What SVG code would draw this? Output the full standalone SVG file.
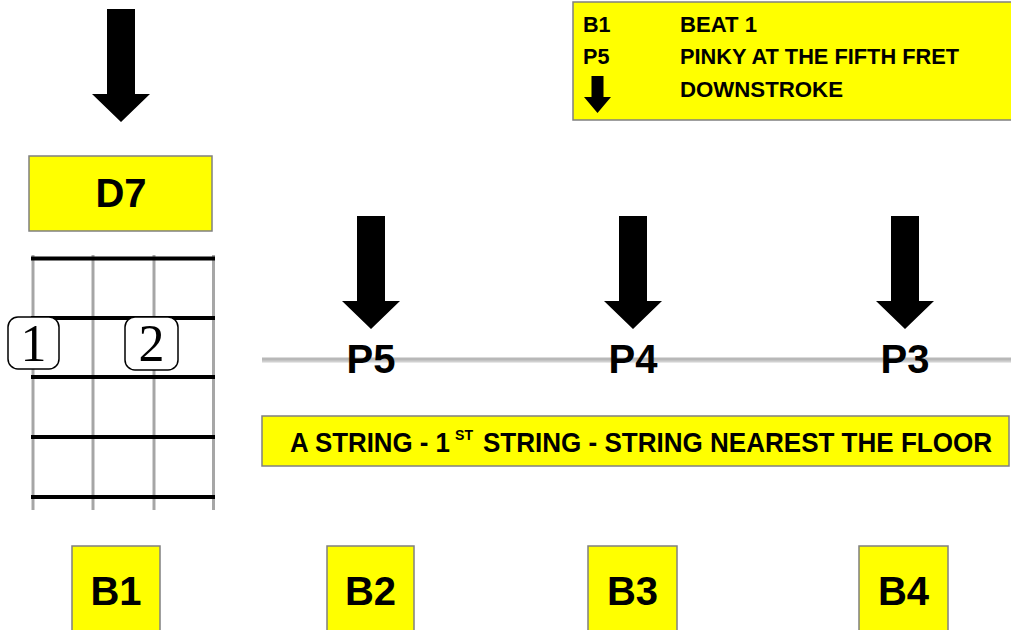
<svg xmlns="http://www.w3.org/2000/svg" width="1011" height="630" viewBox="0 0 1011 630">
<style>
.box{fill:#ffff00;stroke:#808080;stroke-width:1.5}
.big{font-family:"Liberation Sans",Arial,sans-serif;font-weight:bold;font-size:40px;fill:#000;text-anchor:middle}
.leg{font-family:"Liberation Sans",Arial,sans-serif;font-weight:bold;font-size:21.6px;fill:#000}
.ban{font-family:"Liberation Sans",Arial,sans-serif;font-weight:bold;font-size:28px;fill:#000}
.fret{stroke:#000;stroke-width:4}
.str{stroke:#a6a6a6;stroke-width:3}
.fing{fill:#fff;stroke:#000;stroke-width:1.5}
.fnum{font-family:"Liberation Serif","DejaVu Serif",serif;font-size:52px;fill:#000;text-anchor:middle}
</style>
<defs>
<path id="arrow" d="M-14 0 H14 V85 H29 L0 113 L-29 85 H-14 Z" fill="#000"/>
</defs>
<g id="legend">
<rect class="box" x="573" y="2" width="440" height="118"/>
<text class="leg" x="583" y="32">B1</text>
<text class="leg" x="680" y="32" textLength="77" lengthAdjust="spacingAndGlyphs">BEAT 1</text>
<text class="leg" x="583" y="64">P5</text>
<text class="leg" x="680" y="64" textLength="279" lengthAdjust="spacingAndGlyphs">PINKY AT THE FIFTH FRET</text>
<path d="M591.5 76 H603.5 V97 H611 L597.5 113 L584 97 H591.5 Z" fill="#000"/>
<text class="leg" x="680" y="97" textLength="163" lengthAdjust="spacingAndGlyphs">DOWNSTROKE</text>
</g>
<g id="strum-arrows">
<use href="#arrow" x="121" y="9"/>
<use href="#arrow" x="371" y="216"/>
<use href="#arrow" x="633" y="216"/>
<use href="#arrow" x="905" y="216"/>
</g>
<g id="chord-name">
<rect class="box" x="29" y="156" width="183" height="75"/>
<text class="big" x="121" y="207">D7</text>
</g>
<g id="chord-diagram">
<line class="str" x1="33" y1="255" x2="33" y2="510"/>
<line class="str" x1="93" y1="255" x2="93" y2="510"/>
<line class="str" x1="154" y1="255" x2="154" y2="510"/>
<line class="str" x1="213.5" y1="255" x2="213.5" y2="510"/>
<line class="fret" x1="31" y1="258.5" x2="215" y2="258.5"/>
<line class="fret" x1="31" y1="318" x2="215" y2="318"/>
<line class="fret" x1="31" y1="377" x2="215" y2="377"/>
<line class="fret" x1="31" y1="437" x2="215" y2="437"/>
<line class="fret" x1="31" y1="497" x2="215" y2="497"/>
<g id="finger-1">
<rect class="fing" x="8" y="317" width="51" height="52" rx="10"/>
<text class="fnum" x="33.5" y="361">1</text>
</g>
<g id="finger-2">
<rect class="fing" x="125" y="317" width="53" height="53" rx="10"/>
<text class="fnum" x="151.5" y="361">2</text>
</g>
</g>
<g id="string-line">
<line x1="262" y1="360.5" x2="1011" y2="360.5" stroke="#d0d0d0" stroke-width="4"/>
<line x1="262" y1="359" x2="1011" y2="359" stroke="#b8b8b8" stroke-width="3"/>
</g>
<g id="fingering">
<text class="big" x="371" y="373">P5</text>
<text class="big" x="633" y="373">P4</text>
<text class="big" x="905" y="373">P3</text>
</g>
<g id="string-banner">
<rect class="box" x="262" y="416" width="747" height="50"/>
<text class="ban" y="452"><tspan x="290" textLength="160" lengthAdjust="spacingAndGlyphs">A STRING - 1</tspan><tspan x="455" dy="-12" font-size="14" textLength="18" lengthAdjust="spacingAndGlyphs">ST</tspan><tspan x="483" dy="12" textLength="509" lengthAdjust="spacingAndGlyphs">STRING - STRING NEAREST THE FLOOR</tspan></text>
</g>
<g id="beat-1"><rect class="box" x="72" y="546" width="88" height="90"/><text class="big" x="116" y="605">B1</text></g>
<g id="beat-2"><rect class="box" x="327" y="546" width="87" height="90"/><text class="big" x="370.5" y="605">B2</text></g>
<g id="beat-3"><rect class="box" x="588" y="546" width="89" height="90"/><text class="big" x="632.5" y="605">B3</text></g>
<g id="beat-4"><rect class="box" x="859" y="546" width="89" height="90"/><text class="big" x="903.5" y="605">B4</text></g>
</svg>
